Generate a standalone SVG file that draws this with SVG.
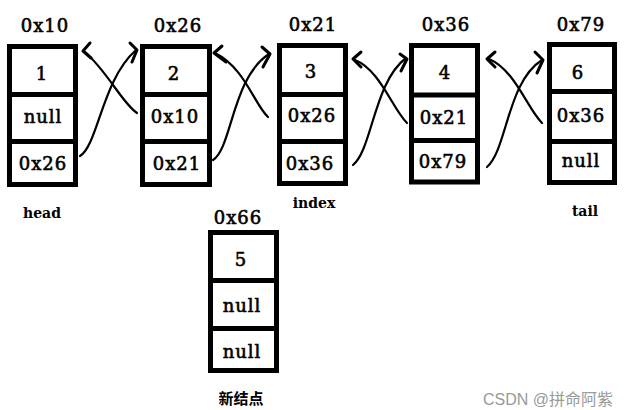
<svg xmlns="http://www.w3.org/2000/svg" width="635" height="410" viewBox="0 0 635 410">
<style>
.box{fill:#fff;stroke:#000;stroke-width:5}
.div{stroke:#000;stroke-width:5}
.t{font-family:"DejaVu Serif",serif;font-size:18px;text-anchor:middle;fill:#000;stroke:#000;stroke-width:0.6;letter-spacing:1px}
.lbl{font-family:"DejaVu Serif",serif;font-size:14px;font-weight:bold;text-anchor:middle;fill:#000}
.cjk{font-family:"Noto Sans CJK SC",sans-serif;font-size:15px;font-weight:bold;text-anchor:middle;fill:#000}
.wm{font-family:"Liberation Sans","Noto Sans CJK SC",sans-serif;font-size:16px;fill:#999}
.c{fill:none;stroke:#000;stroke-width:2.2;stroke-linecap:round}
.h{fill:none;stroke:#000;stroke-width:3;stroke-linecap:round;stroke-linejoin:round}
</style>
<rect width="635" height="410" fill="#fff"/>
<g id="node1">
<text class="t" x="45" y="32">0x10</text>
<rect class="box" x="9.5" y="46.5" width="66" height="138"/>
<line class="div" x1="9.5" y1="94.5" x2="75.5" y2="94.5"/>
<line class="div" x1="9.5" y1="141.5" x2="75.5" y2="141.5"/>
<text class="t" x="42" y="80">1</text>
<text class="t" x="43" y="123">null</text>
<text class="t" x="43" y="170">0x26</text>
<text class="lbl" x="42" y="218">head</text>
</g>
<g id="node2">
<text class="t" x="178" y="32">0x26</text>
<rect class="box" x="142.5" y="46.5" width="67" height="138"/>
<line class="div" x1="142.5" y1="94.5" x2="209.5" y2="94.5"/>
<line class="div" x1="142.5" y1="141.5" x2="209.5" y2="141.5"/>
<text class="t" x="174" y="80">2</text>
<text class="t" x="175" y="123">0x10</text>
<text class="t" x="177" y="170">0x21</text>
</g>
<g id="node3">
<text class="t" x="313" y="31">0x21</text>
<rect class="box" x="279.5" y="45.5" width="66" height="138"/>
<line class="div" x1="279.5" y1="94.5" x2="345.5" y2="94.5"/>
<line class="div" x1="279.5" y1="141.5" x2="345.5" y2="141.5"/>
<text class="t" x="311" y="78">3</text>
<text class="t" x="312" y="122">0x26</text>
<text class="t" x="310" y="170">0x36</text>
<text class="lbl" x="314" y="208">index</text>
</g>
<g id="node4">
<text class="t" x="446" y="31">0x36</text>
<rect class="box" x="411.5" y="45.5" width="66" height="136.5"/>
<line class="div" x1="411.5" y1="95" x2="477.5" y2="95"/>
<line class="div" x1="411.5" y1="140.5" x2="477.5" y2="140.5"/>
<text class="t" x="445" y="79">4</text>
<text class="t" x="444" y="124">0x21</text>
<text class="t" x="443" y="168">0x79</text>
</g>
<g id="node6">
<text class="t" x="581" y="31">0x79</text>
<rect class="box" x="549.5" y="44.5" width="65" height="138"/>
<line class="div" x1="549.5" y1="91.5" x2="614.5" y2="91.5"/>
<line class="div" x1="549.5" y1="141.5" x2="614.5" y2="141.5"/>
<text class="t" x="578" y="79">6</text>
<text class="t" x="581" y="122">0x36</text>
<text class="t" x="581" y="167">null</text>
<text class="lbl" x="585" y="216">tail</text>
</g>
<g id="node5">
<text class="t" x="238" y="224">0x66</text>
<rect class="box" x="210.5" y="232.5" width="66" height="138"/>
<line class="div" x1="210.5" y1="280.5" x2="276.5" y2="280.5"/>
<line class="div" x1="210.5" y1="328.5" x2="276.5" y2="328.5"/>
<text class="t" x="241" y="266">5</text>
<text class="t" x="242" y="312">null</text>
<text class="t" x="242" y="358">null</text>
<text class="cjk" x="241" y="404">新结点</text>
</g>
<g id="connectors">
<path class="c" d="M137,113 C122,103 108,72 84,51"/>
<polyline class="h" points="90,43 83,51 91,58"/>
<path class="c" d="M80,156 C98,145 102,80 136,50"/>
<polyline class="h" points="130,43 137,50 132,62"/>

<path class="c" d="M268,117 C254,104 245,68 215,53"/>
<polyline class="h" points="222,46 214,53 226,62"/>
<path class="c" d="M213,160 C232,148 232,78 269,54"/>
<polyline class="h" points="262,47 270,54 263,67"/>

<path class="c" d="M407,123 C392,108 380,70 355,60"/>
<polyline class="h" points="361,52 353,59 361,67"/>
<path class="c" d="M353,165 C372,150 374,82 406,58"/>
<polyline class="h" points="400,54 407,59 401,71"/>

<path class="c" d="M542,123 C527,108 515,70 489,59"/>
<polyline class="h" points="495,52 487,59 495,67"/>
<path class="c" d="M487,167 C507,150 507,82 542,60"/>
<polyline class="h" points="535,52 543,60 537,73"/>
</g>
<text class="wm" x="483" y="405">CSDN @拼命阿紫</text>
</svg>
